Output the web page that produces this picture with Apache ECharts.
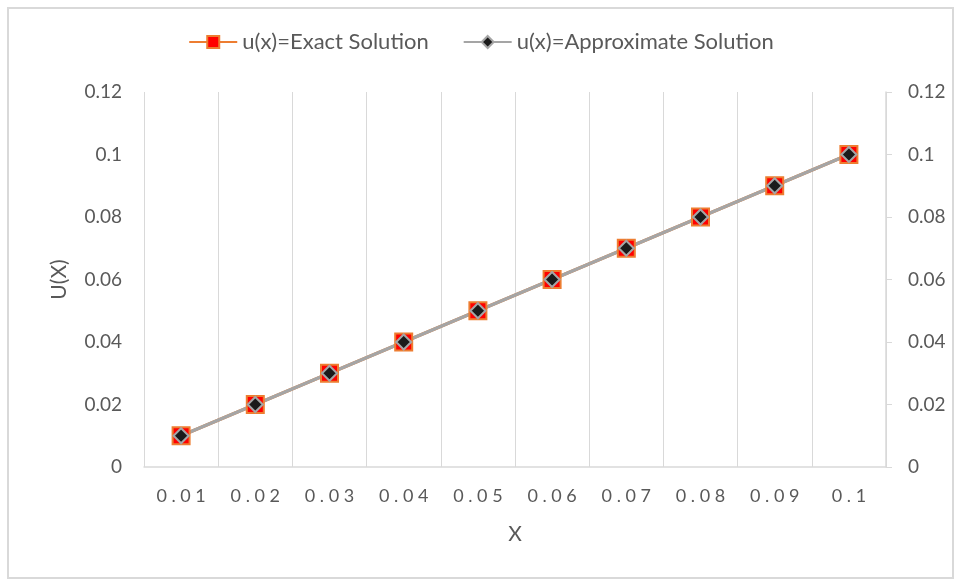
<!DOCTYPE html>
<html>
<head>
<meta charset="utf-8">
<script src="https://cdn.jsdelivr.net/npm/echarts@6/dist/echarts.min.js"></script>
<style>
  html, body { margin: 0; padding: 0; background: #fff; }
  #chart { width: 962px; height: 581px; }
</style>
</head>
<body>
<div id="chart"></div>
<script>
const xValues = ['0.01', '0.02', '0.03', '0.04', '0.05', '0.06', '0.07', '0.08', '0.09', '0.1']
const exactSolution = [0.01, 0.02, 0.03, 0.04, 0.05, 0.06, 0.07, 0.08, 0.09, 0.1]
const approxSolution = [0.01, 0.02, 0.03, 0.04, 0.05, 0.06, 0.07, 0.08, 0.09, 0.1]

const textColor = '#595959'
const lineGray = '#d9d9d9'
const fontFamily = 'Lato, "Open Sans", sans-serif'

const myChart = echarts.init(document.getElementById('chart'), null, { renderer: 'canvas' })

const yAxisBase = {
  type: 'value',
  min: 0,
  max: 0.12,
  interval: 0.02,
  splitLine: { show: false },
  axisLabel: {
    color: textColor,
    fontSize: 19,
    fontFamily,
    margin: 22,
    formatter: (v) => String(+v.toFixed(2)),
  },
}

myChart.setOption({
  animation: false,
  backgroundColor: '#fff',
  graphic: [
    {
      type: 'rect',
      shape: { x: 8, y: 8, width: 945, height: 570 },
      style: { fill: 'none', stroke: lineGray, lineWidth: 2 },
    },
  ],
  legend: {
    top: 26,
    left: 'center',
    itemGap: 34,
    itemWidth: 48,
    itemHeight: 15,
    textStyle: { color: textColor, fontSize: 22, fontFamily },
    data: ['u(x)=Exact Solution', 'u(x)=Approximate Solution'],
  },
  grid: { left: 144, right: 76, top: 92, bottom: 114 },
  xAxis: {
    type: 'category',
    data: xValues,
    boundaryGap: true,
    name: 'X',
    nameLocation: 'middle',
    nameGap: 57,
    nameTextStyle: { color: textColor, fontSize: 21, fontFamily },
    axisLine: { lineStyle: { color: lineGray, width: 1.5 } },
    axisTick: { show: false },
    splitLine: { show: true, lineStyle: { color: lineGray, width: 1 } },
    axisLabel: {
      color: textColor,
      fontSize: 18,
      fontFamily,
      margin: 20,
      formatter: (v) => v.split('').join(' '),
    },
  },
  yAxis: [
    Object.assign({}, yAxisBase, {
      position: 'left',
      name: 'U(X)',
      nameLocation: 'middle',
      nameGap: 74,
      nameRotate: 90,
      nameTextStyle: { color: textColor, fontSize: 21, fontFamily },
      axisLine: { show: false },
      axisTick: { show: false },
    }),
    Object.assign({}, yAxisBase, {
      position: 'right',
      axisLine: { show: true, lineStyle: { color: lineGray, width: 1.5 } },
      axisTick: { show: true, length: 6, lineStyle: { color: lineGray } },
    }),
  ],
  series: [
    {
      name: 'u(x)=Exact Solution',
      type: 'line',
      data: exactSolution,
      symbol: 'rect',
      symbolSize: 17,
      lineStyle: { color: '#ED7D31', width: 3.5 },
      itemStyle: { color: '#FF0000', borderColor: '#ED7D31', borderWidth: 2 },
      emphasis: { disabled: true },
    },
    {
      name: 'u(x)=Approximate Solution',
      type: 'line',
      data: approxSolution,
      symbol: 'diamond',
      symbolSize: 15,
      lineStyle: { color: '#A5A5A5', width: 3.5 },
      itemStyle: { color: '#1a1a1a', borderColor: '#A5A5A5', borderWidth: 2 },
      emphasis: { disabled: true },
    },
  ],
})
</script>
</body>
</html>
